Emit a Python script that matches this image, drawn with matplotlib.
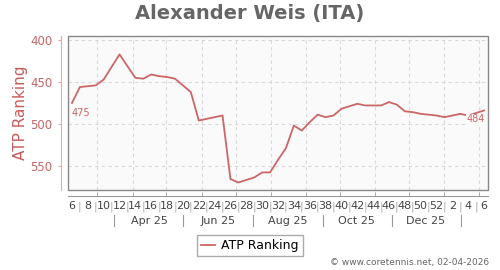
# ATP ranking chart, weekly points
import pandas as pd
import matplotlib.pyplot as plt
import matplotlib.dates as mdates
import matplotlib.transforms as mtransforms
from matplotlib.patches import Rectangle

# data (week 6 2025 .. week 6 2026)
week_start = '2025-02-03'
week_numbers = list(range(6, 53)) + list(range(1, 7))
ranking = [475, 456, 455, 454, 447, 432, 417, 431, 445, 446,
           441, 443, 444, 446, 454, 462, 496, 494, 492, 490,
           566, 570, 567, 564, 558, 558, 543, 529, 502, 508,
           498, 489, 492, 490, 482, 479, 476, 478, 478, 478,
           474, 477, 485, 486, 488, 489, 490, 492, 490, 488,
           490, 487, 484]
month_grid = pd.date_range('2025-03-01', '2026-02-01', freq='MS')
period_labels = ['Apr 25', 'Jun 25', 'Aug 25', 'Oct 25', 'Dec 25']
period_centers = ['2025-04-16', '2025-06-16', '2025-08-16', '2025-10-16', '2025-12-16']
period_breaks = ['2025-03-16', '2025-05-16', '2025-07-16', '2025-09-16', '2025-11-16', '2026-01-16']

line_col = '#cc6666'
tick_col = '#c86464'

weeks = pd.date_range(week_start, periods=len(ranking), freq='7D') + pd.Timedelta(hours=84)
x = mdates.date2num(weeks)

fig = plt.figure(figsize=(5, 2.7), dpi=100)
ax = fig.add_axes([0.136, 0.2963, 0.84, 0.5704])
ax.set_facecolor('#fafafa')

ax.plot(x, ranking, color=line_col, lw=1.3, label='ATP Ranking')

ax.set_xlim(mdates.date2num(pd.Timestamp(week_start)),
            mdates.date2num(pd.Timestamp(week_start) + pd.Timedelta(days=371)))
ax.set_ylim(579, 395)

# frame around plot area
ax.add_patch(Rectangle((0, 0), 1, 1, transform=ax.transAxes, fill=False,
                       ec='#888888', lw=1, zorder=5, clip_on=False))

# y axis
ax.spines['top'].set_visible(False)
ax.spines['right'].set_visible(False)
ax.spines['left'].set_position(('outward', 5))
ax.spines['left'].set_color('#e2a8a8')
ax.set_yticks([400, 450, 500, 550])
ax.tick_params(axis='y', colors='#e2a8a8', labelcolor=tick_col, length=2.5,
               pad=3.5, labelsize=8.5)
ax.set_ylabel('ATP Ranking', color='#c85a5a', fontsize=11, labelpad=2)
ax.yaxis.grid(True, color='#d8d8d8', ls=(0, (3, 3)), lw=0.8)

# x axis: week labels with separators, month gridlines
ax.spines['bottom'].set_position(('outward', 4))
ax.spines['bottom'].set_color('#999999')
ax.set_xticks(x)
labels = [str(w) if w % 2 == 0 else '|' for w in week_numbers]
ax.set_xticklabels(labels)
ax.tick_params(axis='x', which='major', length=0, pad=4, labelsize=8, labelcolor='#444444')
for lab, w in zip(ax.get_xticklabels(), week_numbers):
    if w % 2 == 1:
        lab.set_color('#aaaaaa')
ax.set_xticks(mdates.date2num(month_grid), minor=True)
ax.tick_params(axis='x', which='minor', direction='in', length=3, color='#999999')
ax.xaxis.grid(True, which='minor', color='#d8d8d8', ls=(0, (3, 3)), lw=0.8)
ax.set_axisbelow(True)

# second row: two-month periods
trans = mtransforms.blended_transform_factory(ax.transData, ax.transAxes)
for lab, c in zip(period_labels, period_centers):
    ax.text(mdates.date2num(pd.Timestamp(c)), -0.199, lab, transform=trans,
            ha='center', va='center', fontsize=8, color='#444444')
for b in period_breaks:
    bx = mdates.date2num(pd.Timestamp(b))
    ax.plot([bx, bx], [-0.162, -0.234], transform=trans, color='#999999',
            lw=0.8, clip_on=False)

# first / last value labels
ax.annotate(str(ranking[0]), (x[0], ranking[0]), xytext=(0, -10),
            textcoords='offset pixels', ha='left', va='center',
            fontsize=7, color=line_col)
ax.annotate(str(ranking[-1]), (x[-1], ranking[-1]), xytext=(1, -9),
            textcoords='offset pixels', ha='right', va='center',
            fontsize=7, color=line_col,
            bbox=dict(boxstyle='square,pad=0.1', fc='#fafafa', ec='none'))

fig.suptitle('Alexander Weis (ITA)', x=0.5, y=0.985, fontsize=14,
             fontweight='bold', color='#666666')

leg = fig.legend(loc='center', bbox_to_anchor=(0.5, 0.091), fontsize=9,
                 handlelength=1.1, handletextpad=0.5, fancybox=False,
                 borderpad=0.35, framealpha=1)
leg.get_frame().set_edgecolor('#aaaaaa')

fig.text(0.978, 0.026, '\u00a9 www.coretennis.net, 02-04-2026', ha='right',
         va='center', fontsize=6.5, color='#666666')

fig.savefig('out.png', dpi=100)
